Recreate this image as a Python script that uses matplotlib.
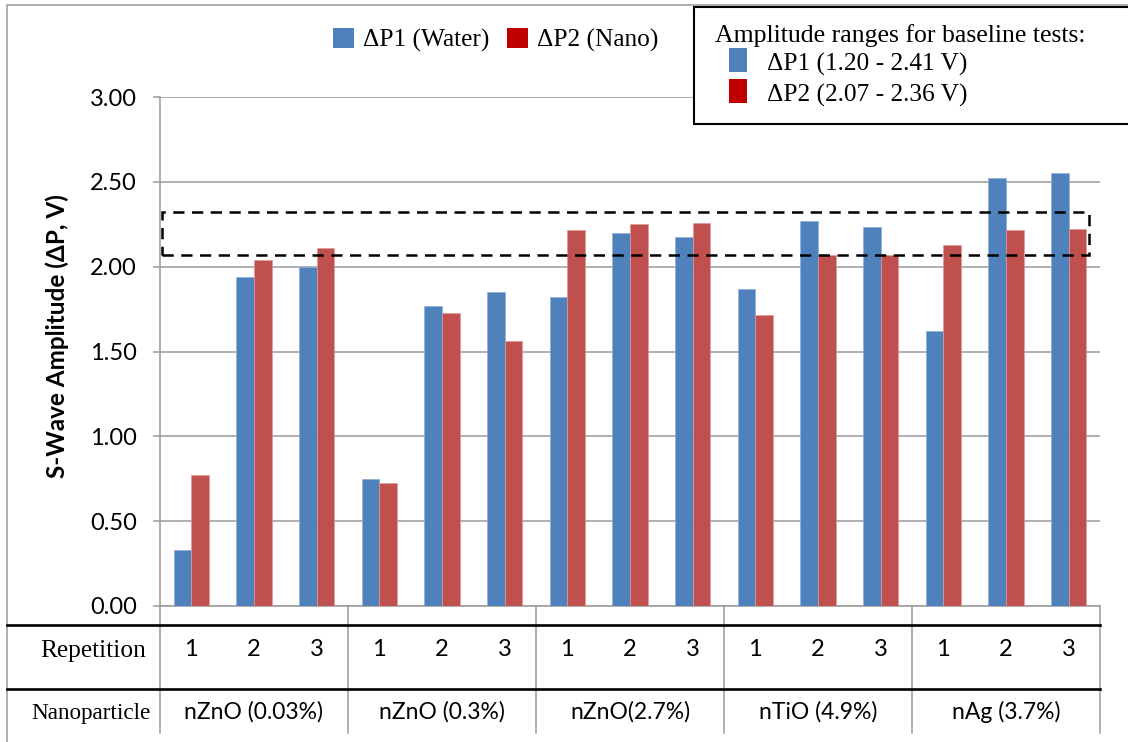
import matplotlib
matplotlib.use("Agg")
import matplotlib.pyplot as plt
import matplotlib.patches as mpatches
import matplotlib.lines as mlines
import matplotlib.transforms as mtransforms
import numpy as np

# dados
nanoparticulas = ["nZnO (0.03%)", "nZnO (0.3%)", "nZnO(2.7%)", "nTiO (4.9%)", "nAg (3.7%)"]
repeticoes = ["1", "2", "3"]
dp1_agua = [0.33, 1.94, 2.00, 0.75, 1.77, 1.85, 1.82, 2.20, 2.175,
            1.87, 2.27, 2.235, 1.62, 2.52, 2.55]
dp2_nano = [0.77, 2.04, 2.11, 0.725, 1.725, 1.56, 2.215, 2.25, 2.255,
            1.715, 2.07, 2.07, 2.13, 2.215, 2.22]
faixa_base = (2.07, 2.32)
yticks = [0.0, 0.5, 1.0, 1.5, 2.0, 2.5, 3.0]

W, H = 1128, 742
AZUL = "#4F81BD"
VERMELHO = "#C0504D"
VERMELHO_ESCURO = "#C00000"
CINZA = "#9a9a9a"
SERIF = "Liberation Serif"
SANS = ["Lato", "DejaVu Sans"]


def fx(x):
    return x / W


def fy(y):
    return 1 - y / H


fig = plt.figure(figsize=(W / 100, H / 100), dpi=100)
ax = fig.add_axes([fx(160), fy(606), fx(1100) - fx(160), fy(97) - fy(606)])

n = len(dp1_agua)
x = np.arange(n)
larg = 0.283
ax.bar(x - larg / 2, dp1_agua, larg, color=AZUL, edgecolor="#8eaedb", linewidth=0.5, zorder=3)
ax.bar(x + larg / 2, dp2_nano, larg, color=VERMELHO, edgecolor="#e09a98", linewidth=0.5, zorder=3)

ax.set_xlim(-0.5, n - 0.5)
ax.set_ylim(0, 3.0)
ax.set_yticks(yticks)
ax.set_yticklabels([f"{v:.2f}" for v in yticks], family=SANS, fontsize=17)
ax.set_xticks([])
ax.tick_params(axis="y", length=5, width=1.1, color=CINZA, pad=11.5)
ax.grid(True, axis="y", color=CINZA, linewidth=1.1, zorder=0)
for lado in ["top", "right"]:
    ax.spines[lado].set_visible(False)
for lado in ["left", "bottom"]:
    ax.spines[lado].set_color(CINZA)
    ax.spines[lado].set_linewidth(1.1)

# faixa das amplitudes de base (tracejado)
ret = mpatches.Rectangle((-0.47, faixa_base[0]), n - 0.5 - 0.18 + 0.47, faixa_base[1] - faixa_base[0],
                         fill=False, edgecolor="black", linewidth=1.8,
                         linestyle=(0, (4.5, 3)), zorder=4)
ax.add_patch(ret)

fig.text(fx(57), fy(336), "S-Wave Amplitude (ΔP, V)", rotation=90, ha="center", va="center",
         family=SANS, fontsize=17.5, weight="bold")

# borda externa
fig.add_artist(mlines.Line2D([fx(7), fx(7), fx(1128)], [fy(742), fy(5), fy(5)],
                             color=CINZA, linewidth=1.1))

# tabela abaixo do eixo
trans = mtransforms.blended_transform_factory(ax.transData, fig.transFigure)
for yl in [625, 689]:
    fig.add_artist(mlines.Line2D([fx(7), fx(1100)], [fy(yl), fy(yl)], color="black", linewidth=1.9))
for g in range(len(nanoparticulas) + 1):
    xv = g * 3 - 0.5
    ax.add_artist(mlines.Line2D([xv, xv], [fy(606), fy(733)], transform=trans,
                                color=CINZA, linewidth=1.1, clip_on=False))

fig.text(fx(93), fy(657), "Repetition", ha="center", va="baseline", family=SERIF, fontsize=18.3)
fig.text(fx(91), fy(719), "Nanoparticle", ha="center", va="baseline", family=SERIF, fontsize=16.7)
for i in range(n):
    ax.text(i, fy(656), repeticoes[i % 3], transform=trans, ha="center", va="baseline",
            family=SANS, fontsize=17)
for g, nome in enumerate(nanoparticulas):
    ax.text(g * 3 + 1, fy(719), nome, transform=trans, ha="center", va="baseline",
            family=SANS, fontsize=16.5)

# legenda superior
itens = [(333, AZUL, "ΔP1 (Water)"), (507, VERMELHO_ESCURO, "ΔP2 (Nano)")]
for x0, cor, txt in itens:
    fig.add_artist(mpatches.Rectangle((fx(x0), fy(48)), 21 / W, 20 / H, transform=fig.transFigure,
                                      facecolor=cor, edgecolor="none"))
    fig.text(fx(x0 + 30), fy(47), txt, ha="left", va="baseline", family=SERIF, fontsize=18.3)

# caixa com faixas de base
fig.add_artist(mpatches.Rectangle((fx(694), fy(124)), (1140 - 694) / W, (124 - 7) / H,
                                  transform=fig.transFigure, facecolor="white",
                                  edgecolor="black", linewidth=1.5, zorder=5))
fig.text(fx(715), fy(42), "Amplitude ranges for baseline tests:", ha="left", va="baseline",
         family=SERIF, fontsize=18.5, zorder=6)
caixa = [(48, AZUL, "ΔP1 (1.20 - 2.41 V)", 71), (79, VERMELHO_ESCURO, "ΔP2 (2.07 - 2.36 V)", 102)]
for y0, cor, txt, yb in caixa:
    fig.add_artist(mpatches.Rectangle((fx(729), fy(y0 + 24)), 18 / W, 24 / H, transform=fig.transFigure,
                                      facecolor=cor, edgecolor="none", zorder=6))
    fig.text(fx(767), fy(yb), txt, ha="left", va="baseline", family=SERIF, fontsize=18.3, zorder=6)

fig.savefig("out.png", dpi=100)
